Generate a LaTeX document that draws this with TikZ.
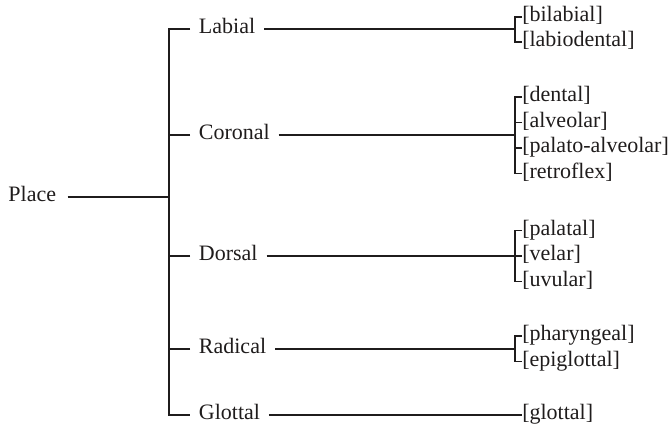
\documentclass[tikz,border=0pt]{standalone}
\usepackage{fontspec}
\setmainfont{Liberation Serif}
\usetikzlibrary{positioning}
\definecolor{inkgray}{rgb}{0.12,0.11,0.11}

\begin{document}
\begin{tikzpicture}[x=0.75pt,y=-0.75pt,
        every node/.style={font=\fontsize{16.5}{19}\selectfont, text=inkgray,
          inner ysep=0pt, text height=11pt, text depth=3.5pt},
        feature/.style={anchor=west, inner xsep=6.5pt},
        value/.style={anchor=west, inner xsep=0pt},
        branch/.style={draw=inkgray, line width=0.8pt}]
        \useasboundingbox (0,0) rectangle (668,427);
        % Root and trunk
        \node[feature, anchor=east] (place) at (65,197) {Place};
        \coordinate (root) at (169,197);
        % Articulators
        \node[feature] (labial) at (190,29) {Labial};
        \node[feature] (coronal) at (190,135) {Coronal};
        \node[feature] (dorsal) at (190,256) {Dorsal};
        \node[feature] (radical) at (190,349) {Radical};
        \node[feature] (glottal) at (190,415) {Glottal};
        % Bracket junctions
        \coordinate (labB) at (515,29);
        \coordinate (corB) at (515,135);
        \coordinate (dorB) at (515,256);
        \coordinate (radB) at (515,349);
        % Values
        \node[value] (bilabial) at (522,17) {[bilabial]};
        \node[value] (labiodental) at (522,42) {[labiodental]};
        \node[value] (dental) at (522,97) {[dental]};
        \node[value] (alveolar) at (522,122.5) {[alveolar]};
        \node[value] (palatoalv) at (522,148) {[palato-alveolar]};
        \node[value] (retroflex) at (522,173.5) {[retroflex]};
        \node[value] (palatal) at (522,230.5) {[palatal]};
        \node[value] (velar) at (522,256) {[velar]};
        \node[value] (uvular) at (522,281.5) {[uvular]};
        \node[value] (pharyngeal) at (522,336) {[pharyngeal]};
        \node[value] (epiglottal) at (522,361.5) {[epiglottal]};
        \node[value] (glottalv) at (522,415) {[glottal]};
        % Draw the tree
        \draw[branch, shorten <=2pt] (place.east) -- (root);
        \draw[branch] (labial.west) -- (labial.west -| root) -- (glottal.west -| root) -- (glottal.west);
        \draw[branch] (coronal.west) -- (coronal.west -| root);
        \draw[branch] (dorsal.west) -- (dorsal.west -| root);
        \draw[branch] (radical.west) -- (radical.west -| root);
        % Lines to the brackets
        \draw[branch] (labial.east) -- (labB);
        \draw[branch] (coronal.east) -- (corB);
        \draw[branch] (dorsal.east) -- (dorB);
        \draw[branch] (radical.east) -- (radB);
        \draw[branch] (glottal.east) -- (glottalv.west);
        % Brackets
        \draw[branch] (bilabial.west) -- ++(-7,0) |- (labiodental.west);
        \draw[branch] (dental.west) -- ++(-7,0) |- (retroflex.west);
        \draw[branch] (alveolar.west) -- ++(-7,0);
        \draw[branch] (palatoalv.west) -- ++(-7,0);
        \draw[branch] (palatal.west) -- ++(-7,0) |- (uvular.west);
        \draw[branch] (velar.west) -- ++(-7,0);
        \draw[branch] (pharyngeal.west) -- ++(-7,0) |- (epiglottal.west);
\end{tikzpicture}
\end{document}
